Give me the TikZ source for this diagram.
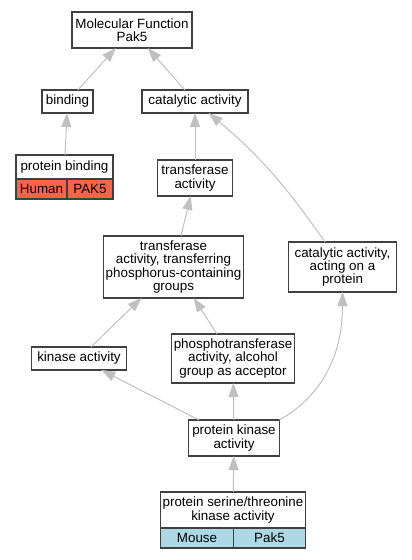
\documentclass[tikz,border=0pt]{standalone}
\usepackage{fontspec}
\setmainfont{Liberation Sans}
\usetikzlibrary{arrows.meta}
\usetikzlibrary{positioning}
\definecolor{boxgray}{RGB}{64,64,64}
\definecolor{edgegray}{RGB}{192,192,192}
\definecolor{humanred}{RGB}{255,99,71}
\definecolor{mouseblue}{RGB}{173,216,230}

\begin{document}
\begin{tikzpicture}[->,>={Triangle[length=14pt,width=10pt]},x=1pt,y=-1pt,
  every edge/.style={draw=edgegray,line width=1pt}]
\tikzstyle{go}=[draw=boxgray,line width=1.2pt,fill=white,align=center,inner sep=0pt,outer sep=0pt,
  minimum height=23pt,font=\fontsize{13.4}{13.3}\selectfont,execute at begin node={\lineskiplimit=-20pt}]
\tikzstyle{cell}=[draw=boxgray,line width=1.2pt,inner sep=0pt,outer sep=0pt,minimum height=20pt,
  font=\fontsize{13.4}{13.3}\selectfont]
\useasboundingbox (0,0) rectangle (412,560);
\node[go,minimum width=120pt,minimum height=36pt]	(mf)	at (132,30)				{Molecular Function\\Pak5};
\node[go,minimum width=51pt]	(bind)	[below=42pt of mf,xshift=-64.5pt]	{binding};
\node[go,minimum width=106pt]	(cat)	[below=42pt of mf,xshift=63pt]		{catalytic activity};
\node[go,minimum width=97pt,minimum height=24pt]	(pb)	[below=42pt of bind,xshift=-3pt]	{protein binding};
\node[cell,fill=humanred,minimum width=51pt,anchor=north west]	(pbhum)	at (pb.south west)	{Human};
\node[cell,fill=humanred,minimum width=46pt]	(pbpak)	[right=0pt of pbhum]		{PAK5};
\node[go,minimum width=75pt,minimum height=36pt]	(trans)	[below=47pt of cat]			{transferase\\activity};
\node[go,minimum width=140pt,minimum height=62pt]	(tpc)	[below=40pt of trans,xshift=-21.5pt]	{transferase\\activity, transferring\\phosphorus-containing\\groups};
\node[go,minimum width=108pt,minimum height=50pt]	(acp)	[right=45pt of tpc]			{catalytic activity,\\acting on a\\protein};
\node[go,minimum width=95pt]	(kin)	[below=49pt of tpc,xshift=-94.5pt]	{kinase activity};
\node[go,minimum width=123pt,minimum height=49pt]	(pho)	[right=45pt of kin]			{phosphotransferase\\activity, alcohol\\group as acceptor};
\node[go,minimum width=91pt,minimum height=36pt]	(pk)	[below=37pt of pho,xshift=1pt]		{protein kinase\\activity};
\node[go,minimum width=145pt,minimum height=36pt]	(sst)	[below=36pt of pk,xshift=-1pt]		{protein serine/threonine\\kinase activity};
\node[cell,fill=mouseblue,minimum width=73pt,anchor=north west]	(sstmou)	at (sst.south west)	{Mouse};
\node[cell,fill=mouseblue,minimum width=72pt]	(sstpak)	[right=0pt of sstmou]		{Pak5};
\path(pb)		edge						(bind)
     (bind)		edge						(mf)
     (cat)		edge						(mf)
     (trans)		edge						(cat)
     (acp)		edge[out=125,in=-40]				(cat)
     (tpc)		edge						(trans)
     (kin)		edge						(tpc)
     (pho)		edge						(tpc)
     (pk)		edge						(kin)
     (pk)		edge						(pho)
     (pk.north east)	edge[out=30,in=-90]				(acp)
     (sst)		edge						(pk);
\end{tikzpicture}
\end{document}
